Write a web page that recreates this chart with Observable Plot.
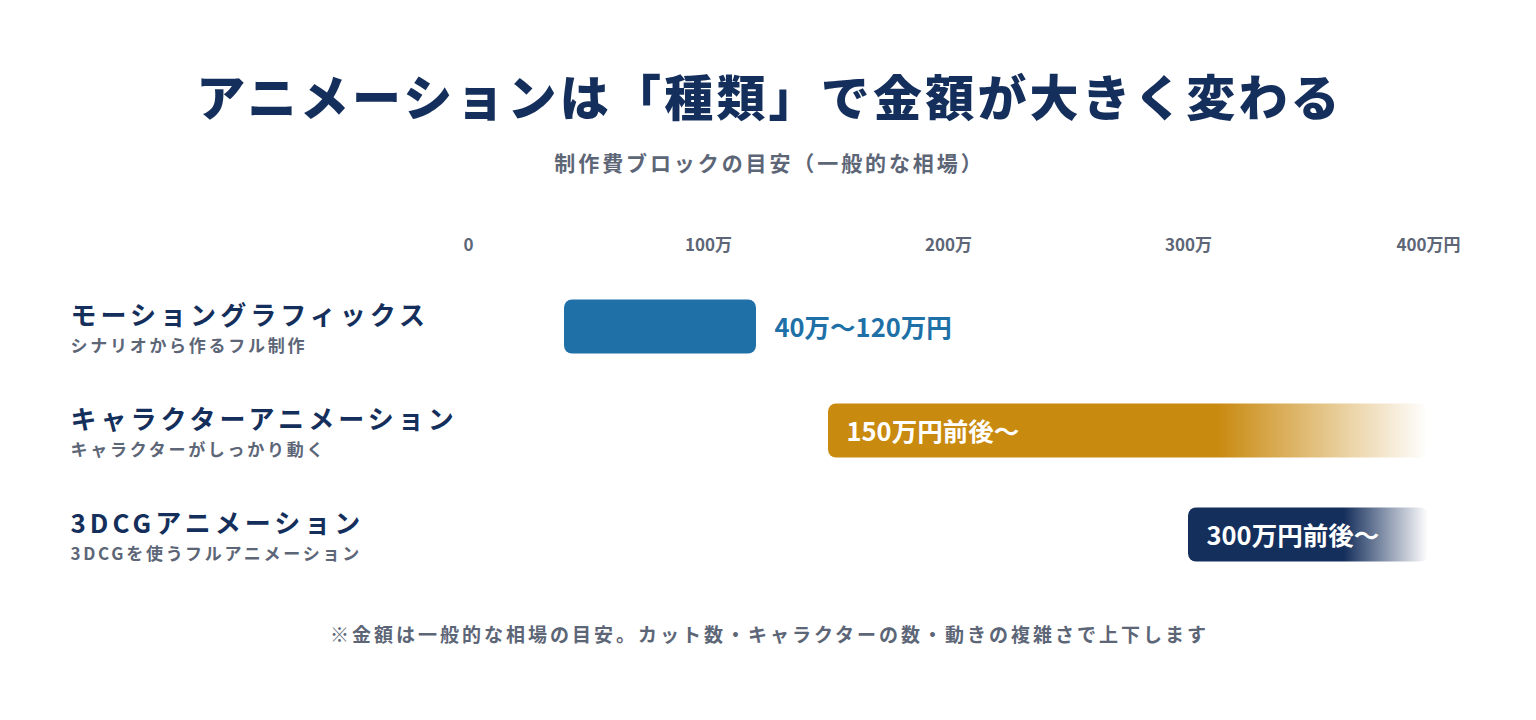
<!DOCTYPE html>
<html>
<head>
<meta charset="utf-8">
<script src="https://cdn.jsdelivr.net/npm/d3@7"></script>
<script src="https://cdn.jsdelivr.net/npm/@observablehq/plot@0.6"></script>
<style>
  body { margin: 0; background: #ffffff; font-family: "Noto Sans CJK JP", "Noto Sans", sans-serif; }
  #wrap { position: relative; width: 1536px; height: 720px; overflow: hidden; }
  .abs { position: absolute; left: 0; width: 1536px; text-align: center; white-space: nowrap; box-sizing: border-box; }
  #title { top: 70px; font-size: 49px; line-height: 49px; font-weight: 900; color: #152f5c; letter-spacing: 3.2px; padding-left: 3.2px; }
  #subtitle { top: 152px; font-size: 21px; line-height: 21px; font-weight: 700; color: #5d6677; letter-spacing: 2.9px; padding-left: 2.9px; }
  #chart { position: absolute; left: 0; top: 210px; }
  #note { top: 624px; font-size: 19px; line-height: 20px; font-weight: 700; color: #5d6677; letter-spacing: 3px; padding-left: 3px; }
</style>
</head>
<body>
<div id="wrap">
  <div id="title" class="abs"></div>
  <div id="subtitle" class="abs"></div>
  <div id="chart"></div>
  <div id="note" class="abs"></div>
</div>
<script>
// ---- data ----
const titleText = "アニメーションは「種類」で金額が大きく変わる";
const subtitleText = "制作費ブロックの目安（一般的な相場）";
const noteText = "※金額は一般的な相場の目安。カット数・キャラクターの数・動きの複雑さで上下します";

const categories = ["モーショングラフィックス", "キャラクターアニメーション", "3DCGアニメーション"];
const descriptions = ["シナリオから作るフル制作", "キャラクターがしっかり動く", "3DCGを使うフルアニメーション"];
const lowValues = [40, 150, 300];      // 万円
const highValues = [120, 400, 400];    // 万円 (open-ended bars run to the scale end)
const openEnded = [false, true, true];
const priceLabels = ["40万〜120万円", "150万円前後〜", "300万円前後〜"];
const barColors = ["#2070a8", "#c98a10", "#152f5c"];

const tickValues = [0, 100, 200, 300, 400];
const tickLabels = ["0", "100万", "200万", "300万", "400万円"];

// ---- build ----
document.getElementById("title").textContent = titleText;
document.getElementById("subtitle").textContent = subtitleText;
document.getElementById("note").textContent = noteText;

const rows = categories.map((c, i) => ({
  category: c,
  desc: descriptions[i],
  low: lowValues[i],
  high: highValues[i],
  open: openEnded[i],
  price: priceLabels[i],
  color: barColors[i],
  fill: openEnded[i] ? `url(#fade${i})` : barColors[i],
  textFill: openEnded[i] ? "#ffffff" : barColors[i]
}));

const font = "'Noto Sans CJK JP', 'Noto Sans', sans-serif";

const chart = Plot.plot({
  width: 1536,
  height: 371,
  marginLeft: 468,
  marginRight: 108,
  marginTop: 80,
  marginBottom: 10,
  x: {domain: [0, 400], axis: null},
  y: {domain: categories, axis: null, paddingInner: 0.3, paddingOuter: 0},
  color: {type: "identity"},
  style: {fontFamily: font, background: "transparent", overflow: "visible"},
  marks: [
    Plot.axisX({
      anchor: "top",
      ticks: tickValues,
      tickFormat: d => tickLabels[tickValues.indexOf(d)],
      tickSize: 0,
      tickPadding: 40,
      fontSize: 17,
      fontWeight: "bold",
      color: "#5d6677",
      label: null
    }),
    Plot.ruleX(rows, {x: () => 0, y: "category", stroke: "#152f5c", strokeWidth: 3}),
    Plot.barX(rows, {x1: "low", x2: "high", y: "category", fill: "fill", rx: 8, ry: 8, insetTop: 9.5, insetBottom: 9.5}),
    Plot.text(rows, {
      x: d => d.open ? d.low : d.high,
      y: "category",
      text: "price",
      textAnchor: "start",
      dx: 18,
      dy: 1.5,
      fill: "textFill",
      fontSize: 25.5,
      fontWeight: "bold"
    }),
    Plot.text(rows, {
      y: "category",
      text: "category",
      frameAnchor: "left",
      textAnchor: "start",
      dx: -398,
      dy: -10,
      fill: "#152f5c",
      fontSize: 26,
      fontWeight: "bold"
    }),
    Plot.text(rows, {
      y: "category",
      text: "desc",
      frameAnchor: "left",
      textAnchor: "start",
      dx: -398,
      dy: 20,
      fill: "#5d6677",
      fontSize: 17,
      fontWeight: "bold"
    })
  ]
});

// letter spacing on the row label texts
const markGroups = d3.select(chart).selectAll("g[aria-label='text']").nodes();
d3.select(markGroups[1]).selectAll("text").style("letter-spacing", "0.155em");
d3.select(markGroups[2]).selectAll("text").style("letter-spacing", "0.16em");

// gradients for open-ended bars
const defs = d3.select(chart).insert("defs", ":first-child");
rows.forEach((r, i) => {
  if (!r.open) return;
  const g = defs.append("linearGradient").attr("id", `fade${i}`).attr("x1", 0).attr("x2", 1).attr("y1", 0).attr("y2", 0);
  g.append("stop").attr("offset", 0).attr("stop-color", r.color).attr("stop-opacity", 1);
  g.append("stop").attr("offset", 0.65).attr("stop-color", r.color).attr("stop-opacity", 1);
  g.append("stop").attr("offset", 1).attr("stop-color", r.color).attr("stop-opacity", 0);
});

document.getElementById("chart").appendChild(chart);
</script>
</body>
</html>
